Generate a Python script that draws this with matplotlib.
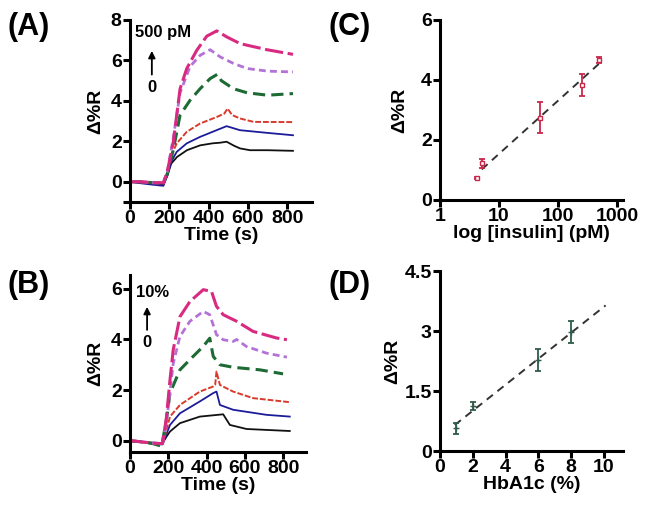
import numpy as np
import matplotlib
matplotlib.use('Agg')
import matplotlib.pyplot as plt

plt.rcParams['font.family'] = ['Liberation Sans', 'DejaVu Sans']
plt.rcParams['font.weight'] = 'bold'

# (A) insulin sensorgrams, 0 -> 500 pM
a_black_t = [0, 60, 120, 170, 190, 210, 240, 290, 357, 420, 458, 492, 530, 560, 611, 700, 830]
a_black_v = [0, -0.05, -0.1, -0.12, 0.3, 0.9, 1.23, 1.56, 1.8, 1.9, 1.93, 1.98, 1.78, 1.65, 1.56, 1.56, 1.53]
a_blue_t = [0, 60, 120, 170, 190, 210, 238, 289, 357, 441, 492, 560, 696, 830]
a_blue_v = [0, -0.08, -0.15, -0.2, 0.3, 1.0, 1.48, 1.9, 2.22, 2.55, 2.75, 2.55, 2.42, 2.3]
a_red_t = [0, 60, 120, 170, 190, 210, 238, 289, 357, 441, 480, 497, 520, 560, 630, 830]
a_red_v = [0, -0.03, -0.06, -0.08, 0.4, 1.3, 1.9, 2.47, 2.88, 3.2, 3.37, 3.62, 3.3, 3.13, 2.96, 2.95]
a_green_t = [0, 60, 120, 170, 190, 221, 255, 306, 357, 408, 446, 465, 527, 596, 700, 830]
a_green_v = [0, 0, -0.05, -0.05, 0.4, 1.6, 3.3, 4.03, 4.6, 5.1, 5.32, 5.0, 4.6, 4.4, 4.28, 4.36]
a_violet_t = [0, 60, 120, 170, 190, 221, 255, 306, 357, 408, 460, 527, 596, 700, 830]
a_violet_v = [0, 0, -0.05, -0.05, 0.5, 2.2, 4.4, 5.7, 6.25, 6.53, 6.17, 5.85, 5.6, 5.47, 5.43]
a_magenta_t = [0, 60, 120, 170, 190, 221, 255, 289, 340, 391, 442, 493, 561, 697, 830]
a_magenta_v = [0, 0, -0.05, -0.05, 0.5, 2.0, 4.6, 5.6, 6.5, 7.2, 7.46, 7.16, 6.83, 6.53, 6.3]

# (B) HbA1c sensorgrams, 0 -> 10 %
b_black_t = [0, 60, 120, 170, 191, 209, 261, 365, 487, 522, 609, 835]
b_black_v = [-0.02, -0.05, -0.08, -0.1, 0.16, 0.36, 0.69, 0.95, 1.04, 0.62, 0.46, 0.38]
b_blue_t = [0, 60, 120, 170, 190, 209, 261, 365, 435, 452, 470, 539, 713, 835]
b_blue_v = [-0.02, -0.06, -0.12, -0.15, 0.25, 0.62, 1.08, 1.55, 1.88, 1.94, 1.41, 1.22, 1.02, 0.95]
b_red_t = [0, 60, 120, 170, 190, 209, 261, 365, 435, 445, 452, 470, 539, 643, 835]
b_red_v = [-0.02, -0.06, -0.1, -0.12, 0.4, 0.95, 1.41, 1.94, 2.14, 2.2, 2.73, 2.2, 1.94, 1.68, 1.52]
b_green_t = [0, 60, 120, 165, 190, 209, 261, 330, 383, 417, 435, 470, 539, 678, 800]
b_green_v = [0, -0.05, -0.12, -0.22, 0.8, 1.88, 2.8, 3.33, 3.73, 4.05, 3.33, 3.0, 2.9, 2.8, 2.64]
b_violet_t = [0, 60, 120, 170, 195, 226, 261, 313, 383, 417, 452, 487, 539, 557, 609, 713, 820]
b_violet_v = [0, -0.05, -0.1, -0.12, 1.0, 3.06, 4.12, 4.72, 5.11, 4.98, 4.19, 3.99, 3.92, 4.0, 3.72, 3.46, 3.3]
b_magenta_t = [0, 60, 120, 170, 190, 209, 226, 261, 313, 383, 426, 452, 487, 557, 643, 765, 820]
b_magenta_v = [0, -0.05, -0.1, -0.12, 0.9, 2.4, 3.6, 4.9, 5.5, 5.97, 5.9, 5.31, 4.98, 4.72, 4.32, 4.06, 3.99]

# (C) calibration vs insulin
c_conc = [4.2, 5.2, 50, 250, 500]
c_resp = [0.72, 1.22, 2.74, 3.83, 4.68]
c_err = [0.03, 0.16, 0.52, 0.38, 0.1]
c_fit_x = [5.1, 520]
c_fit_y = [1.02, 4.58]

# (D) calibration vs HbA1c
d_pct = [1, 2, 6, 8]
d_resp = [0.57, 1.12, 2.27, 2.97]
d_err = [0.14, 0.1, 0.28, 0.28]
d_fit_x = [0.9, 10.1]
d_fit_y = [0.65, 3.64]

styles = [
    ('#111111', '-', 1.3),
    ('#1c1c9a', '-', 1.3),
    ('#d83a2c', (0, (3, 1)), 1.4),
    ('#1d6a34', (0, (4, 2)), 2.2),
    ('#b373d6', (0, (2.5, 1.5)), 2.0),
    ('#d82a80', (0, (6, 1.5)), 2.2),
]

fig = plt.figure(figsize=(6.51, 5.12), dpi=100)
axA = fig.add_axes([0.1997, 0.6055, 0.2796, 0.3555])
axB = fig.add_axes([0.1997, 0.1172, 0.2704, 0.3457])
axC = fig.add_axes([0.6759, 0.6094, 0.2811, 0.3516])
axD = fig.add_axes([0.6759, 0.1191, 0.2811, 0.3516])

FS = 14
ARROW = dict(arrowstyle='-|>', color='black', lw=1.3, mutation_scale=10, shrinkA=0, shrinkB=0)


def style_axes(ax, ypad=7):
    for s in ['top', 'right']:
        ax.spines[s].set_visible(False)
    for s in ['left', 'bottom']:
        ax.spines[s].set_linewidth(2.2)
    ax.tick_params(width=2.2, length=5, labelsize=FS, pad=1)
    for lab in ax.get_xticklabels() + ax.get_yticklabels():
        lab.set_fontweight('bold')
    ax.set_ylabel('Δ%R', fontsize=FS, fontweight='bold', labelpad=ypad)


a_curves = [(a_black_t, a_black_v), (a_blue_t, a_blue_v), (a_red_t, a_red_v),
            (a_green_t, a_green_v), (a_violet_t, a_violet_v), (a_magenta_t, a_magenta_v)]
for (t, v), (c, ls, lw) in zip(a_curves, styles):
    axA.plot(t, v, color=c, linestyle=ls, linewidth=lw)
axA.set_xlim(0, 927)
axA.set_ylim(-1, 8)
axA.set_xticks([0, 200, 400, 600, 800])
axA.set_yticks([-1, 0, 2, 4, 6, 8])
axA.set_yticklabels(['', '0', '2', '4', '6', '8'])
axA.set_xlabel('Time (s)', fontsize=FS, fontweight='bold', labelpad=0)
axA.text(0.18, 0.93, '500 pM', transform=axA.transAxes, ha='center', va='center',
         fontsize=12, fontweight='bold')
axA.annotate('', xy=(0.12, 0.83), xytext=(0.12, 0.70), xycoords='axes fraction',
             arrowprops=ARROW)
axA.text(0.12, 0.63, '0', transform=axA.transAxes, ha='center', va='center',
         fontsize=12, fontweight='bold')
style_axes(axA, ypad=5)

b_curves = [(b_black_t, b_black_v), (b_blue_t, b_blue_v), (b_red_t, b_red_v),
            (b_green_t, b_green_v), (b_violet_t, b_violet_v), (b_magenta_t, b_magenta_v)]
for (t, v), (c, ls, lw) in zip(b_curves, styles):
    axB.plot(t, v, color=c, linestyle=ls, linewidth=lw)
axB.set_xlim(0, 920)
axB.set_ylim(-0.45, 6.55)
axB.set_xticks([0, 200, 400, 600, 800])
axB.set_yticks([0, 2, 4, 6])
axB.set_xlabel('Time (s)', fontsize=FS, fontweight='bold', labelpad=0)
axB.text(0.13, 0.9, '10%', transform=axB.transAxes, ha='center', va='center',
         fontsize=12, fontweight='bold')
axB.annotate('', xy=(0.097, 0.82), xytext=(0.097, 0.69), xycoords='axes fraction',
             arrowprops=ARROW)
axB.text(0.097, 0.62, '0', transform=axB.transAxes, ha='center', va='center',
         fontsize=12, fontweight='bold')
style_axes(axB, ypad=5)

axC.plot(c_fit_x, c_fit_y, color='#333333', linestyle=(0, (4, 3)), linewidth=1.4)
axC.errorbar(c_conc, c_resp, yerr=c_err, fmt='s', ms=3, mfc='white', mec='#c8284a',
             ecolor='#c8284a', elinewidth=1.3, capsize=2.5, capthick=1.3)
axC.set_xscale('log')
axC.set_xlim(1, 1260)
axC.set_ylim(0, 6)
axC.set_xticks([1, 10, 100, 1000])
axC.set_xticklabels(['1', '10', '100', '1000'])
axC.minorticks_off()
axC.set_yticks([0, 2, 4, 6])
axC.set_xlabel('log [insulin] (pM)', fontsize=FS, fontweight='bold', labelpad=0)
style_axes(axC, ypad=9)

axD.plot(d_fit_x, d_fit_y, color='#333333', linestyle=(0, (4, 3)), linewidth=1.4)
axD.errorbar(d_pct, d_resp, yerr=d_err, fmt='+', ms=5, mec='#2e5c48', color='#2e5c48',
             ecolor='#2e5c48', elinewidth=1.3, capsize=2.5, capthick=1.3)
axD.set_xlim(0, 11.16)
axD.set_ylim(0, 4.5)
axD.set_xticks([0, 2, 4, 6, 8, 10])
axD.set_yticks([0, 1.5, 3, 4.5])
axD.set_yticklabels(['0', '1.5', '3', '4.5'])
axD.set_xlabel('HbA1c (%)', fontsize=FS, fontweight='bold', labelpad=0)
style_axes(axD, ypad=2)

fig.text(0.012, 0.947, '(A)', fontsize=22, fontweight='bold', va='center')
fig.text(0.505, 0.947, '(C)', fontsize=22, fontweight='bold', va='center')
fig.text(0.012, 0.443, '(B)', fontsize=22, fontweight='bold', va='center')
fig.text(0.505, 0.443, '(D)', fontsize=22, fontweight='bold', va='center')

fig.savefig('out.png', dpi=100)
